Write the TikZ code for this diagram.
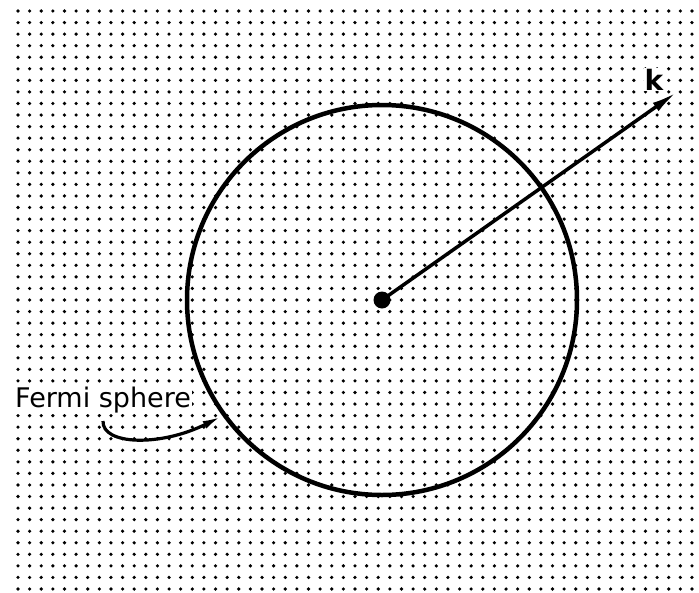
\documentclass[tikz,border=0pt]{standalone}
\usepackage{fontspec}
\setmainfont{DejaVu Sans}
\usetikzlibrary{arrows.meta, positioning}

\begin{document}
\begin{tikzpicture}[
      x=1pt, y=-1pt,
      sphereline/.style={draw, circle, line width=4.5pt, minimum size=390pt, inner sep=0pt},
      textbox/.style={fill=white, inner sep=1pt, font=\fontsize{27}{30}\selectfont},
      vec/.style={line width=3.5pt, -{Latex[length=26pt, width=10pt]}},
      leader/.style={line width=3.2pt, -{Latex[length=20pt, width=8pt]}},
    ]
    % page: 699 x 592, one unit = one pixel of the reference
    \useasboundingbox[fill=white] (0,0) rectangle (699,592);

    % dotted background grid
    \foreach \i in {0,...,58} {
      \foreach \j in {0,...,50} {
        \fill ({18+11.62*\i},{11+11.56*\j}) circle (1.8pt);
      }
    }

    % the sphere and its centre
    \node[sphereline] (sphere) at (382,300) {};
    \fill (sphere.center) circle (8.5pt);
    \coordinate (centre) at (sphere.center);

    % wave vector
    \coordinate (ktip) at (677,92);
    \draw[vec] (centre) -- (ktip);
    \node[textbox, font=\fontsize{28}{30}\selectfont\bfseries, anchor=base] (klabel) at (654,90) {k};

    % label with its leader
    \node[textbox, anchor=base west] (fermi) at (14,407) {Fermi sphere};
    \coordinate (lstart) at (103,421);
    \draw[leader] (lstart) .. controls (102,445) and (160,447) .. (sphere.216);
\end{tikzpicture}
\end{document}
